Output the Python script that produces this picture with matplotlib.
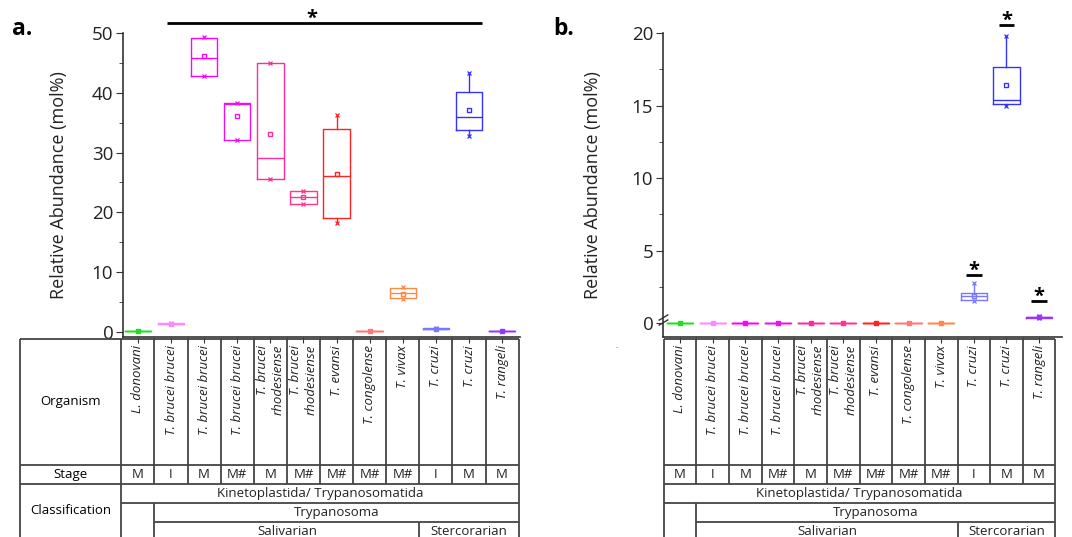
import numpy as np
import matplotlib
matplotlib.use('Agg')
import matplotlib.pyplot as plt

plt.rcParams['font.family'] = ['Open Sans', 'DejaVu Sans']

# ---- data -------------------------------------------------------------------
organisms = ['L. donovani', 'T. brucei brucei', 'T. brucei brucei', 'T. brucei brucei',
             'T. brucei\nrhodesiense', 'T. brucei\nrhodesiense', 'T. evansi', 'T. congolense',
             'T. vivax', 'T. cruzi', 'T. cruzi', 'T. rangeli']
stages = ['M', 'I', 'M', 'M#', 'M', 'M#', 'M#', 'M#', 'M#', 'I', 'M', 'M']
colors = ['#22DD22', '#FF88FF', '#FF00FF', '#EE11EE', '#FF2AA0', '#FF3390',
          '#FF2222', '#FF7777', '#FF8844', '#7777FF', '#3333FF', '#9933FF']

# panel a (mol%)
a_lo = [0.1, 1.35, 42.8, 32.1, 25.5, 21.4, 18.2, 0.2, 5.5, 0.45, 32.8, 0.15]
a_q1 = [0.1, 1.35, 42.8, 32.1, 25.5, 21.4, 19.1, 0.2, 5.6, 0.45, 33.8, 0.15]
a_med = [0.1, 1.4, 45.9, 38.1, 29.1, 22.5, 26.1, 0.2, 6.6, 0.55, 36.0, 0.15]
a_q3 = [0.1, 1.45, 49.2, 38.3, 44.9, 23.6, 33.9, 0.2, 7.3, 0.65, 40.1, 0.15]
a_hi = [0.1, 1.45, 49.4, 38.3, 45.0, 23.6, 36.3, 0.2, 7.5, 0.65, 43.3, 0.15]
a_mean = [0.1, 1.4, 46.2, 36.1, 33.1, 22.5, 26.5, 0.2, 6.35, 0.55, 37.1, 0.15]

# panel b (mol%)
b_lo = [0, 0, 0, 0, 0, 0, 0, 0, 0, 1.5, 15.0, 0.38]
b_q1 = [0, 0, 0, 0, 0, 0, 0, 0, 0, 1.6, 15.1, 0.38]
b_med = [0, 0, 0, 0, 0, 0, 0, 0, 0, 1.85, 15.4, 0.4]
b_q3 = [0, 0, 0, 0, 0, 0, 0, 0, 0, 2.1, 17.65, 0.42]
b_hi = [0, 0, 0, 0, 0, 0, 0, 0, 0, 2.8, 19.8, 0.5]
b_mean = [0, 0, 0, 0, 0, 0, 0, 0, 0, 1.85, 16.4, 0.4]

# significance bars: (x start, x end, y, star x)
a_sig = [(0.88, 10.4, 51.7, 5.25)]
b_sig = [(8.76, 9.24, 3.3, 9), (9.76, 10.24, 20.55, 10), (10.76, 11.24, 1.55, 11)]

W, H = 1072, 537
fig = plt.figure(figsize=(W / 100, H / 100), dpi=100)


def px_axes(l, r, t, b):
    return fig.add_axes([l / W, 1 - b / H, (r - l) / W, (b - t) / H])


axA = px_axes(123, 520, 33, 337)
axB = px_axes(663, 1062, 33, 337)
ax_t = fig.add_axes([0, 0, 1, 1])
ax_t.set_xlim(0, W)
ax_t.set_ylim(H, 0)
ax_t.axis('off')


def draw_boxes(ax, lo, q1, med, q3, hi, mean):
    for i in range(len(lo)):
        c = colors[i]
        st = [dict(whislo=lo[i], q1=q1[i], med=med[i], q3=q3[i], whishi=hi[i],
                   mean=mean[i], fliers=[])]
        ax.bxp(st, positions=[i], widths=0.8, showmeans=True, showcaps=False,
               manage_ticks=False,
               boxprops=dict(color=c, lw=1), medianprops=dict(color=c, lw=1),
               whiskerprops=dict(color=c, lw=1),
               meanprops=dict(marker='s', mfc='none', mec=c, ms=3.5, mew=1))
        ax.plot([i, i], [lo[i], hi[i]], ls='none', marker='x', color=c, ms=3, mew=0.9)


def style_axes(ax, ylim, xlim, major, minor):
    ax.set_ylim(*ylim)
    ax.set_xlim(*xlim)
    for s in ['top', 'right']:
        ax.spines[s].set_visible(False)
    for s in ['left', 'bottom']:
        ax.spines[s].set_color('#333333')
        ax.spines[s].set_linewidth(1.2)
    pos = np.arange(len(organisms))
    ax.set_xticks(pos)
    ax.set_xticks(pos[:-1] + 0.5, minor=True)
    ax.set_yticks(major)
    ax.set_yticks(minor, minor=True)
    ax.tick_params(axis='x', which='major', length=4, color='#333333', labelbottom=False)
    ax.tick_params(axis='x', which='minor', length=2, color='#333333')
    ax.tick_params(axis='y', which='major', length=5, color='#333333', labelsize=13.5,
                   labelcolor='#222222', pad=2)
    ax.tick_params(axis='y', which='minor', length=3, color='#333333')
    ax.set_ylabel('Relative Abundance (mol%)', fontsize=13, color='#222222')
    ax.patch.set_alpha(0)


draw_boxes(axA, a_lo, a_q1, a_med, a_q3, a_hi, a_mean)
style_axes(axA, (-0.84, 50), (-0.45, 11.54), np.arange(0, 51, 10), np.arange(5, 50, 10))
axA.yaxis.set_label_coords(-0.138, 0.5)

draw_boxes(axB, b_lo, b_q1, b_med, b_q3, b_hi, b_mean)
style_axes(axB, (-0.95, 20), (-0.52, 11.7), np.arange(0, 21, 5), np.arange(2.5, 20, 5))
axB.yaxis.set_label_coords(-0.153, 0.5)

# significance markers
for ax, sig, off in [(axA, a_sig, -0.25), (axB, b_sig, -0.05)]:
    for x0, x1, y, xs in sig:
        ax.plot([x0, x1], [y, y], color='black', lw=2, clip_on=False, solid_capstyle='butt')
        ax.text(xs, y + off, '*', ha='center', va='baseline', fontsize=14.5,
                fontweight='bold', clip_on=False)

# axis break on panel b
brk = dict(marker=[(-1, -0.6), (1, 0.6)], markersize=7, linestyle='none', color='#333333',
           mec='#333333', mew=1, clip_on=False)
axB.plot([-0.52, -0.52], [0.1, 0.45], **brk)

# panel letters
ax_t.text(12, 35, 'a.', fontsize=16.5, fontweight='bold', ha='left', va='baseline')
ax_t.text(553, 35, 'b.', fontsize=16.5, fontweight='bold', ha='left', va='baseline')
ax_t.text(617, 347, '.', fontsize=6, ha='center', va='center', color='#444444')

# ---- table under each panel -------------------------------------------------
y_top, y_org, y_stage, y_c1, y_c2, y_bot = 339, 465, 484, 503, 522, 545
lc = dict(color='#444444', lw=1.3, solid_capstyle='butt')


def xpx(ax, x):
    return ax.transData.transform((x, 0))[0]


def draw_table(ax, label_left=None):
    n = len(organisms)
    edges = [xpx(ax, i - 0.5) for i in range(n + 1)]
    left = label_left if label_left is not None else edges[0]
    right = edges[-1]
    # horizontal lines
    for y in [y_top, y_org, y_stage]:
        ax_t.plot([left, right], [y, y], **lc)
    ax_t.plot([edges[0], right], [y_c1, y_c1], **lc)
    ax_t.plot([edges[1], right], [y_c2, y_c2], **lc)
    # vertical lines
    ax_t.plot([edges[0], edges[0]], [y_top, y_bot], **lc)
    ax_t.plot([right, right], [y_top, y_bot], **lc)
    for e in edges[1:-1]:
        ax_t.plot([e, e], [y_top, y_stage], **lc)
    ax_t.plot([edges[1], edges[1]], [y_c1, y_bot], **lc)
    ax_t.plot([edges[9], edges[9]], [y_c2, y_bot], **lc)
    if label_left is not None:
        ax_t.plot([left, left], [y_top, y_bot], **lc)
        cx = (left + edges[0]) / 2
        ax_t.text(cx, (y_top + y_org) / 2, 'Organism', ha='center', va='center', fontsize=9.5)
        ax_t.text(cx, (y_org + y_stage) / 2, 'Stage', ha='center', va='center', fontsize=9.5)
        ax_t.text(cx, 511, 'Classification', ha='center', va='center', fontsize=9.5)
    # organism and stage cells
    for i in range(n):
        cx = (edges[i] + edges[i + 1]) / 2
        ax_t.text(cx, y_top + 6, organisms[i], rotation=90, ha='center', va='top',
                  multialignment='right', fontsize=9.5, style='italic', linespacing=1.25,
                  color='#222222')
        ax_t.text(cx, (y_org + y_stage) / 2 + 0.5, stages[i], ha='center', va='center',
                  fontsize=9.5, color='#222222')
    # classification
    ax_t.text((edges[0] + right) / 2, (y_stage + y_c1) / 2, 'Kinetoplastida/ Trypanosomatida',
              ha='center', va='center', fontsize=9.5, color='#222222')
    ax_t.text((edges[1] + right) / 2, (y_c1 + y_c2) / 2, 'Trypanosoma',
              ha='center', va='center', fontsize=9.5, color='#222222')
    ax_t.text((edges[1] + edges[9]) / 2, y_c2 + 9.5, 'Salivarian',
              ha='center', va='center', fontsize=9.5, color='#222222')
    ax_t.text((edges[9] + right) / 2, y_c2 + 9.5, 'Stercorarian',
              ha='center', va='center', fontsize=9.5, color='#222222')


draw_table(axA, label_left=20)
draw_table(axB)

fig.savefig('out.png', dpi=100)
